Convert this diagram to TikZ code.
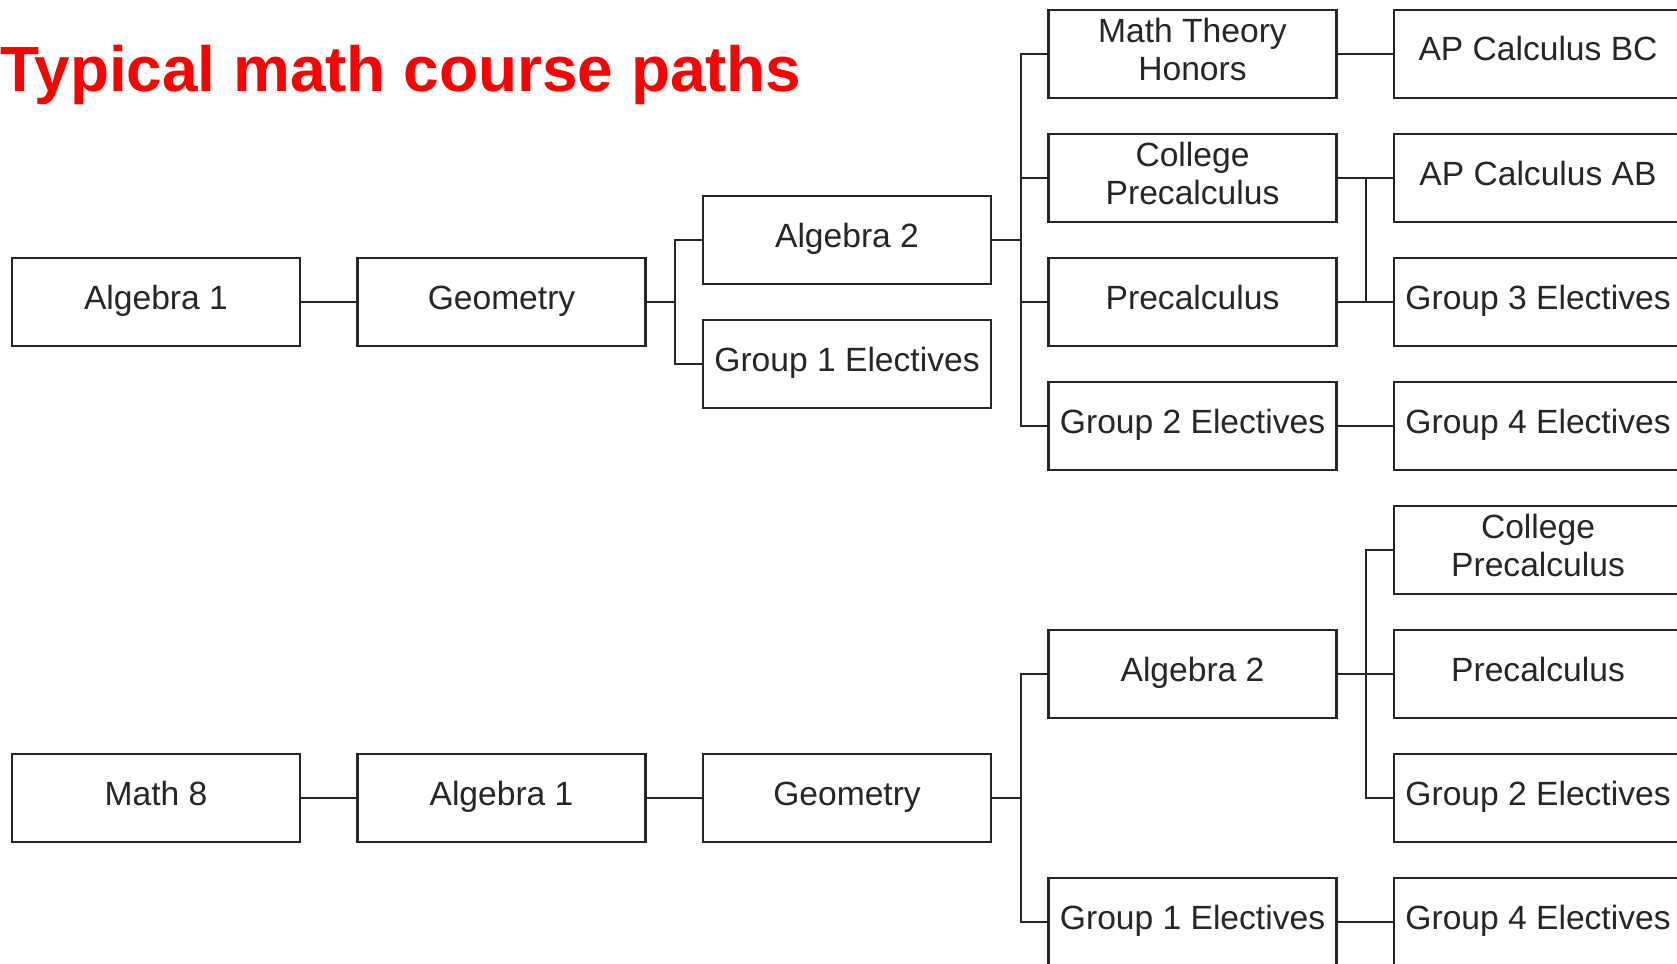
\documentclass[tikz,border=0pt]{standalone}
\usepackage{fontspec}
\setmainfont{Liberation Sans}
\definecolor{Ink}{HTML}{262626}
\definecolor{Heading}{HTML}{FF0000}

\begin{document}
\begin{tikzpicture}[x=1pt,y=-1pt,every node/.style={text=Ink,font=\fontsize{33.6}{37.7}\selectfont},box/.style={draw=Ink,line width=2.1pt,minimum width=288pt,minimum height=88pt,inner sep=0pt,text height=24pt,text depth=10pt},twoline/.style={box,text height={},text depth={},align=center},link/.style={draw=Ink,line width=2.1pt}]
\useasboundingbox (0,0) rectangle (1677,963);
\clip (0,0) rectangle (1677,963);
\fill[white] (0,0) rectangle (1677,963);
\node[anchor=base west,inner sep=0pt,text=Heading,font=\fontsize{63.9}{70}\selectfont\bfseries] (title) at (0,92) {Typical math course paths};

% upper path
\node[box] (alg1) at (156,302) {Algebra 1};
\node[box] (geo) at (501.5,302) {Geometry};
\node[box] (alg2) at (847,240) {Algebra 2};
\node[box] (grp1) at (847,364) {Group 1 Electives};
\node[twoline] (mth) at (1192.5,54) {Math Theory\\Honors\rule[-9pt]{0pt}{9pt}};
\node[twoline] (cpre) at (1192.5,178) {College\\Precalculus\rule[-9pt]{0pt}{9pt}};
\node[box] (pre) at (1192.5,302) {Precalculus};
\node[box] (grp2) at (1192.5,426) {Group 2 Electives};
\node[box] (bc) at (1538,54) {AP Calculus BC};
\node[box] (ab) at (1538,178) {AP Calculus AB};
\node[box] (grp3) at (1538,302) {Group 3 Electives};
\node[box] (grp4) at (1538,426) {Group 4 Electives};

% lower path
\node[box] (m8) at (156,798) {Math 8};
\node[box] (balg1) at (501.5,798) {Algebra 1};
\node[box] (bgeo) at (847,798) {Geometry};
\node[box] (balg2) at (1192.5,674) {Algebra 2};
\node[box] (bgrp1) at (1192.5,922) {Group 1 Electives};
\node[twoline] (bcpre) at (1538,550) {College\\Precalculus\rule[-9pt]{0pt}{9pt}};
\node[box] (bpre) at (1538,674) {Precalculus};
\node[box] (bgrp2) at (1538,798) {Group 2 Electives};
\node[box] (bgrp4) at (1538,922) {Group 4 Electives};

% straight links
\foreach \a/\b in {alg1/geo,mth/bc,cpre/ab,pre/grp3,grp2/grp4,m8/balg1,balg1/bgeo,bgrp1/bgrp4}
  \draw[link] (\a.east) -- (\b.west);
% elbow links
\foreach \a/\b in {geo/alg2,geo/grp1,alg2/mth,alg2/cpre,alg2/pre,alg2/grp2,pre/ab,bgeo/balg2,bgeo/bgrp1,balg2/bcpre,balg2/bpre,balg2/bgrp2}
  \draw[link] (\a.east) -- ++(28.75,0) |- (\b.west);
\end{tikzpicture}
\end{document}
